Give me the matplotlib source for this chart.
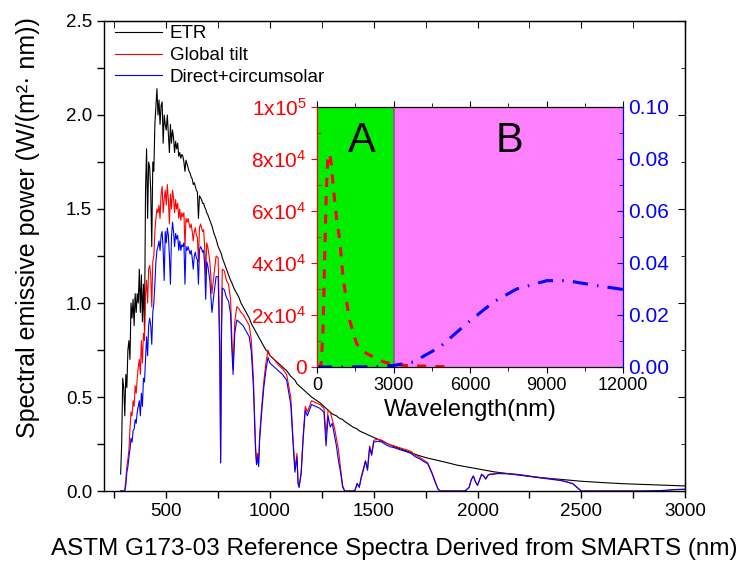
import numpy as np
import matplotlib
matplotlib.use("Agg")
import matplotlib.pyplot as plt
from matplotlib.ticker import MultipleLocator, FixedLocator

plt.rcParams['font.family'] = ['Liberation Sans', 'DejaVu Sans']
plt.rcParams['mathtext.fontset'] = 'custom'
plt.rcParams['mathtext.rm'] = 'Liberation Sans'
plt.rcParams['mathtext.it'] = 'Liberation Sans:italic'
plt.rcParams['mathtext.bf'] = 'Liberation Sans:bold'

# ASTM G173-03 spectra, UV/visible part (5 nm steps)
wl_vis = [280, 285, 290, 295, 300, 305, 310, 315, 320, 325,
          330, 335, 340, 345, 350, 355, 360, 365, 370, 375,
          380, 385, 390, 395, 400, 405, 410, 415, 420, 425,
          430, 435, 440, 445, 450, 455, 460, 465, 470, 475,
          480, 485, 490, 495, 500, 505, 510, 515, 520, 525,
          530, 535, 540, 545, 550, 555, 560, 565, 570, 575,
          580, 585, 590, 595, 600, 605, 610, 615, 620, 625,
          630, 635, 640, 645, 650, 655, 660, 665, 670, 675,
          680, 685, 690, 695, 700]
etr_vis = [0.09, 0.25, 0.60, 0.55, 0.40, 0.62, 0.55, 0.75, 0.80, 0.70,
           1.00, 0.92, 1.02, 0.88, 1.05, 0.95, 1.05, 1.00, 1.18, 0.95,
           1.15, 0.90, 1.10, 0.85, 1.60, 1.82, 1.45, 1.75, 1.72, 1.60,
           1.30, 1.75, 1.70, 1.95, 2.05, 2.14, 2.00, 2.08, 1.95, 2.05,
           2.07, 1.85, 2.00, 1.95, 1.92, 2.00, 1.90, 1.80, 1.95, 1.85,
           1.92, 1.88, 1.80, 1.86, 1.82, 1.85, 1.78, 1.80, 1.77, 1.79,
           1.78, 1.75, 1.70, 1.76, 1.74, 1.72, 1.70, 1.69, 1.67, 1.66,
           1.63, 1.64, 1.62, 1.60, 1.59, 1.45, 1.57, 1.56, 1.55, 1.53,
           1.53, 1.51, 1.50, 1.48, 1.47]
glob_vis = [0.0, 0.0, 0.0, 0.0, 0.005, 0.06, 0.13, 0.17, 0.22, 0.33,
            0.42, 0.40, 0.48, 0.45, 0.56, 0.52, 0.60, 0.66, 0.70, 0.62,
            0.80, 0.68, 0.84, 0.80, 1.05, 1.12, 1.00, 1.18, 1.20, 1.15,
            0.98, 1.22, 1.25, 1.38, 1.45, 1.50, 1.48, 1.52, 1.45, 1.58,
            1.62, 1.48, 1.55, 1.60, 1.52, 1.63, 1.55, 1.42, 1.58, 1.50,
            1.60, 1.56, 1.48, 1.55, 1.50, 1.53, 1.45, 1.50, 1.44, 1.48,
            1.46, 1.48, 1.30, 1.45, 1.43, 1.45, 1.42, 1.40, 1.42, 1.38,
            1.33, 1.38, 1.40, 1.36, 1.35, 1.22, 1.40, 1.42, 1.40, 1.38,
            1.39, 1.30, 1.15, 1.32, 1.30]
dir_vis = [0.0, 0.0, 0.0, 0.0, 0.0, 0.03, 0.10, 0.13, 0.18, 0.22,
           0.28, 0.26, 0.32, 0.33, 0.38, 0.36, 0.42, 0.45, 0.48, 0.40,
           0.52, 0.45, 0.60, 0.58, 0.70, 0.82, 0.72, 0.88, 0.92, 0.88,
           0.78, 0.95, 1.00, 1.10, 1.22, 1.28, 1.30, 1.33, 1.28, 1.36,
           1.38, 1.28, 1.12, 1.38, 1.32, 1.40, 1.36, 1.25, 1.10, 1.35,
           1.43, 1.38, 1.30, 1.37, 1.34, 1.36, 1.28, 1.33, 1.28, 1.31,
           1.30, 1.32, 1.10, 1.30, 1.28, 1.30, 1.28, 1.26, 1.28, 1.24,
           1.18, 1.25, 1.27, 1.24, 1.23, 1.10, 1.28, 1.30, 1.29, 1.27,
           1.28, 1.20, 1.02, 1.22, 1.20]

# near-infrared part
wl_nir = [710, 720, 730, 740, 750, 758, 762, 766, 770, 780,
          790, 800, 810, 815, 822, 830, 840, 850, 860, 870,
          880, 890, 900, 910, 920, 930, 935, 940, 945, 950,
          960, 970, 980, 990, 1000, 1020, 1040, 1060, 1080, 1100,
          1110, 1120, 1130, 1135, 1140, 1150, 1160, 1170, 1180, 1200,
          1220, 1240, 1260, 1270, 1280, 1290, 1300, 1310, 1320, 1330,
          1340, 1350, 1360, 1380, 1400, 1410, 1420, 1430, 1440, 1450,
          1460, 1470, 1480, 1490, 1500, 1520, 1540, 1560, 1580, 1600,
          1620, 1640, 1660, 1680, 1700, 1720, 1740, 1760, 1780, 1790,
          1800, 1810, 1820, 1850, 1900, 1940, 1960, 1970, 1980, 1990,
          2000, 2010, 2020, 2030, 2040, 2050, 2060, 2080, 2100, 2150,
          2200, 2250, 2300, 2350, 2400, 2430, 2460, 2480, 2500, 2600,
          2700, 2800, 2900, 2950, 3000]
etr_nir = [1.44, 1.41, 1.37, 1.34, 1.30, 1.28, 1.27, 1.26, 1.24, 1.21,
           1.18, 1.15, 1.12, 1.11, 1.09, 1.07, 1.05, 1.03, 1.00, 0.98,
           0.96, 0.94, 0.92, 0.89, 0.87, 0.85, 0.84, 0.83, 0.82, 0.81,
           0.79, 0.77, 0.75, 0.74, 0.72, 0.70, 0.68, 0.66, 0.64, 0.61,
           0.60, 0.59, 0.57, 0.565, 0.56, 0.55, 0.54, 0.53, 0.52, 0.50,
           0.485, 0.47, 0.45, 0.44, 0.43, 0.42, 0.41, 0.405, 0.40, 0.39,
           0.385, 0.38, 0.37, 0.355, 0.34, 0.335, 0.33, 0.32, 0.315, 0.31,
           0.305, 0.30, 0.295, 0.29, 0.285, 0.275, 0.265, 0.255, 0.245, 0.235,
           0.228, 0.22, 0.212, 0.203, 0.195, 0.188, 0.181, 0.175, 0.17, 0.167,
           0.165, 0.162, 0.16, 0.152, 0.138, 0.13, 0.126, 0.124, 0.122, 0.12,
           0.118, 0.116, 0.114, 0.112, 0.11, 0.108, 0.106, 0.102, 0.099, 0.092,
           0.085, 0.078, 0.072, 0.067, 0.062, 0.059, 0.056, 0.054, 0.052, 0.045,
           0.039, 0.035, 0.031, 0.029, 0.027]
glob_nir = [1.22, 1.05, 1.15, 1.25, 1.24, 0.80, 0.15, 0.90, 1.18, 1.17,
            1.12, 1.10, 1.02, 0.85, 0.65, 0.90, 0.98, 0.97, 0.95, 0.94,
            0.92, 0.90, 0.88, 0.80, 0.60, 0.25, 0.15, 0.20, 0.14, 0.30,
            0.45, 0.58, 0.68, 0.75, 0.72, 0.70, 0.67, 0.65, 0.62, 0.50,
            0.30, 0.12, 0.20, 0.05, 0.02, 0.10, 0.30, 0.45, 0.42, 0.48,
            0.47, 0.46, 0.44, 0.30, 0.43, 0.42, 0.38, 0.34, 0.28, 0.22,
            0.12, 0.03, 0.0, 0.0, 0.0, 0.005, 0.04, 0.02, 0.08, 0.12,
            0.16, 0.12, 0.24, 0.20, 0.27, 0.275, 0.27, 0.255, 0.245, 0.24,
            0.232, 0.225, 0.218, 0.21, 0.19, 0.18, 0.165, 0.15, 0.10, 0.07,
            0.04, 0.01, 0.0, 0.0, 0.0, 0.0, 0.02, 0.06, 0.08, 0.05,
            0.03, 0.06, 0.09, 0.08, 0.065, 0.085, 0.09, 0.092, 0.095, 0.093,
            0.088, 0.08, 0.072, 0.065, 0.058, 0.05, 0.04, 0.02, 0.0, 0.0,
            0.0, 0.0, 0.003, 0.008, 0.01]
dir_nir = [1.12, 0.95, 1.05, 1.14, 1.14, 0.70, 0.15, 0.80, 1.08, 1.07,
           1.03, 1.01, 0.94, 0.78, 0.62, 0.84, 0.91, 0.90, 0.89, 0.88,
           0.86, 0.84, 0.82, 0.74, 0.55, 0.22, 0.14, 0.18, 0.13, 0.27,
           0.42, 0.55, 0.64, 0.71, 0.68, 0.66, 0.64, 0.62, 0.59, 0.46,
           0.27, 0.10, 0.18, 0.04, 0.02, 0.09, 0.28, 0.43, 0.40, 0.46,
           0.45, 0.44, 0.42, 0.24, 0.40, 0.34, 0.36, 0.30, 0.24, 0.16,
           0.10, 0.02, 0.0, 0.0, 0.0, 0.005, 0.04, 0.02, 0.07, 0.11,
           0.16, 0.11, 0.23, 0.19, 0.26, 0.265, 0.26, 0.245, 0.235, 0.23,
           0.222, 0.215, 0.208, 0.20, 0.182, 0.172, 0.158, 0.145, 0.095, 0.065,
           0.035, 0.01, 0.0, 0.0, 0.0, 0.0, 0.02, 0.06, 0.08, 0.05,
           0.03, 0.06, 0.088, 0.078, 0.063, 0.083, 0.088, 0.09, 0.093, 0.091,
           0.086, 0.078, 0.07, 0.063, 0.056, 0.048, 0.038, 0.018, 0.0, 0.0,
           0.0, 0.0, 0.003, 0.007, 0.009]

# blackbody curves for the inset: sun (left axis) and earth (right axis)
sun_wl = [0, 120, 170, 235, 300, 367, 430, 500, 560, 650, 760, 890,
          1020, 1150, 1280, 1550, 1800, 2200, 2600, 3000, 3500, 4300, 5000]
sun_pow = [0, 0, 1.9e3, 14e3, 42e3, 68e3, 81.6e3, 82e3, 78e3, 68e3, 57.8e3, 48.8e3,
           34.7e3, 26e3, 18e3, 9e3, 6e3, 3.9e3, 2e3, 1e3, 0.6e3, 0.3e3, 0.1e3]
earth_wl = [0, 1000, 2000, 3000, 3770, 4820, 5870, 6920, 7830, 9010, 9800, 10850, 12000]
earth_pow = [0, 0, 0.0001, 0.0006, 0.0019, 0.0077, 0.0167, 0.025, 0.030, 0.0332,
             0.0332, 0.0315, 0.0298]

wl = np.array(wl_vis + wl_nir)
etr = np.array(etr_vis + etr_nir)
glob = np.array(glob_vis + glob_nir)
direct = np.array(dir_vis + dir_nir)

fig = plt.figure(figsize=(7.41, 5.64), dpi=100)
ax = fig.add_axes([0.1404, 0.1294, 0.784, 0.8334])

ax.plot(wl, etr, color='black', lw=0.8, label='ETR')
ax.plot(wl, glob, color='red', lw=0.8, label='Global tilt')
ax.plot(wl, direct, color='blue', lw=0.8, label='Direct+circumsolar')

xmajor = [500, 1000, 1500, 2000, 2500, 3000]
ax.set_xlim(200, 3000)
ax.set_ylim(0, 2.5)
ax.xaxis.set_major_locator(FixedLocator(xmajor))
ax.xaxis.set_minor_locator(MultipleLocator(250))
ax.yaxis.set_major_locator(MultipleLocator(0.5))
ax.yaxis.set_minor_locator(MultipleLocator(0.25))
ax.tick_params(which='both', direction='out', labelsize=13.5, width=1, length=5)
for s in ax.spines.values():
    s.set_linewidth(1)

# inward ticks on the top and right edges
top = ax.secondary_xaxis('top')
top.xaxis.set_major_locator(FixedLocator(xmajor))
top.xaxis.set_minor_locator(MultipleLocator(250))
top.tick_params(which='both', direction='in', labeltop=False, length=5)
right = ax.secondary_yaxis('right')
right.yaxis.set_major_locator(MultipleLocator(0.5))
right.yaxis.set_minor_locator(MultipleLocator(0.25))
right.tick_params(which='major', direction='in', labelright=False, length=5)
right.tick_params(which='minor', direction='in', length=3)

ax.set_ylabel('Spectral emissive power (W/(m²· nm))', fontsize=18)
ax.yaxis.set_label_coords(-0.11, 0.56)
ax.set_xlabel('ASTM G173-03 Reference Spectra Derived from SMARTS (nm)', fontsize=17.5, labelpad=13)

ax.legend(loc='upper left', bbox_to_anchor=(0.0, 1.015), frameon=False, fontsize=13.5,
          handlelength=2.5, handletextpad=0.4, labelspacing=0.25, borderaxespad=0.2)

# inset: blackbody emission of sun and earth
ins = fig.add_axes([0.4278, 0.3493, 0.413, 0.461])
ins.axvspan(0, 3000, color='#00ee00', lw=0)
ins.axvspan(3000, 12000, color='#ff80ff', lw=0)
ins.axvline(3000, color='#806080', lw=1.2)
ins.plot(sun_wl, sun_pow, color='red', lw=2.2, ls=(0, (3, 3)))
ins.set_xlim(0, 12000)
ins.set_ylim(0, 1e5)
ins.xaxis.set_major_locator(MultipleLocator(3000))
ins.xaxis.set_minor_locator(MultipleLocator(1500))
ins.yaxis.set_major_locator(MultipleLocator(2e4))
ins.yaxis.set_minor_locator(MultipleLocator(1e4))
ins.yaxis.set_major_formatter(plt.FuncFormatter(
    lambda v, p: '0' if v == 0 else (r'1x10$^5$' if v >= 1e5 else r'%dx10$^4$' % round(v / 1e4))))
ins.tick_params(axis='y', colors='red', labelsize=15, which='both')
ins.tick_params(axis='y', which='major', direction='out', length=4)
ins.tick_params(axis='y', which='minor', direction='in', length=3)
ins.tick_params(axis='x', which='both', direction='out', labelsize=13, top=True, length=4)
ins.tick_params(axis='x', which='minor', length=3)
ins.spines['left'].set_color('red')
ins.spines['right'].set_color('blue')
ins.set_xlabel('Wavelength(nm)', fontsize=17, labelpad=3)

ins2 = ins.twinx()
ins2.plot(earth_wl, earth_pow, color='blue', lw=2.2, ls=(0, (5, 3, 0.5, 3)))
ins2.set_ylim(0, 0.1)
ins2.yaxis.set_major_locator(MultipleLocator(0.02))
ins2.yaxis.set_minor_locator(MultipleLocator(0.01))
ins2.yaxis.set_major_formatter(plt.FormatStrFormatter('%.2f'))
ins2.tick_params(axis='y', which='both', colors='blue', direction='in', labelsize=15)
ins2.tick_params(axis='y', which='major', length=4)
ins2.tick_params(axis='y', which='minor', length=3)
ins2.spines['right'].set_color('blue')
ins2.spines['left'].set_color('red')

ins.text(1750, 8.7e4, 'A', fontsize=30, ha='center', va='center')
ins.text(7550, 8.7e4, 'B', fontsize=30, ha='center', va='center')

fig.savefig('out.png', dpi=100)
